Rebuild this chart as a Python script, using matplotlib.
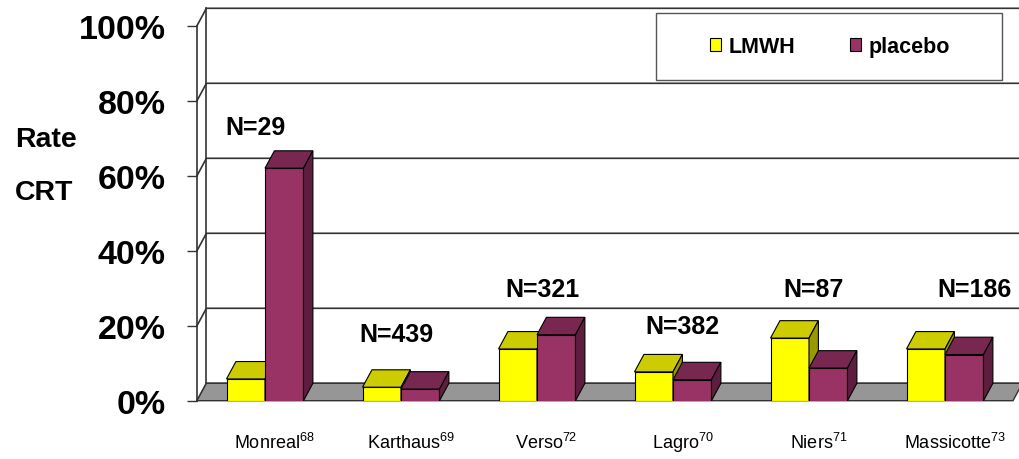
import numpy as np
import matplotlib.pyplot as plt
from matplotlib.patches import Polygon, Rectangle, Patch

plt.rcParams['font.family'] = ['Liberation Sans', 'DejaVu Sans']

# CRT rate per study (percent)
studies = ["Monreal", "Karthaus", "Verso", "Lagro", "Niers", "Massicotte"]
refs = ["68", "69", "72", "70", "71", "73"]
lmwh = [5.8, 3.6, 13.8, 7.7, 16.7, 13.8]
placebo = [62.0, 3.1, 17.6, 5.6, 8.7, 12.3]
n_patients = [29, 439, 321, 382, 87, 186]
yticks = [0, 20, 40, 60, 80, 100]

# where the N= labels sit (x in category units, y in percent)
n_label_x = [-0.07, 0.97, 2.04, 3.07, 4.03, 5.22]
n_label_y = [73, 17.8, 29.8, 20, 29.8, 29.8]

lmwh_cols = ("#FFFF00", "#CCCC00", "#999900")     # front, top, side
placebo_cols = ("#993366", "#772750", "#5E1E40")

fig = plt.figure(figsize=(10.19, 4.6), dpi=100)
ax = fig.add_axes([197 / 1019, 58.3 / 460, 816 / 1019, 375 / 460])
ax.set_xlim(-0.5, 5.5)
ax.set_ylim(0, 100)

# depth of the fake 3d effect, in data units
dx = 9.4 / 136
dy = 17.4 / 3.75
x0, x1 = ax.get_xlim()
grid_c = "#333333"

# back wall: gridlines, left side wall and wall edge
for v in yticks:
    ax.plot([x0, x0 + dx, x1 + dx], [v, v + dy, v + dy], color=grid_c, lw=1.2,
            clip_on=False, zorder=1)
ax.plot([x0 + dx, x0 + dx], [dy, 100 + dy], color=grid_c, lw=1.2, clip_on=False, zorder=1)

# floor
ax.add_patch(Polygon([(x0, 0), (x1, 0), (x1 + dx, dy), (x0 + dx, dy)], closed=True,
                     facecolor="#969696", edgecolor=grid_c, lw=1.0, clip_on=False, zorder=2))

w = 0.283
x = np.arange(len(studies))


def faces(left, h, cols, z):
    top = [(left, h), (left + w, h), (left + w + dx, h + dy), (left + dx, h + dy)]
    side = [(left + w, 0), (left + w, h), (left + w + dx, h + dy), (left + w + dx, dy)]
    ax.add_patch(Polygon(top, closed=True, facecolor=cols[1], edgecolor="black",
                         lw=0.8, clip_on=False, zorder=z))
    ax.add_patch(Polygon(side, closed=True, facecolor=cols[2], edgecolor="black",
                         lw=0.8, clip_on=False, zorder=z))


ax.bar(x - w, lmwh, width=w, align="edge", color=lmwh_cols[0], edgecolor="black",
       lw=0.8, zorder=3)
for xi, h in zip(x, lmwh):
    faces(xi - w, h, lmwh_cols, 3.1)
ax.bar(x, placebo, width=w, align="edge", color=placebo_cols[0], edgecolor="black",
       lw=0.8, zorder=4)
for xi, h in zip(x, placebo):
    faces(xi, h, placebo_cols, 4.1)

# sample size labels
for n, lx, ly in zip(n_patients, n_label_x, n_label_y):
    ax.text(lx, ly, f"N={n}", ha="center", va="center", fontsize=18,
            fontweight="bold", zorder=6)

# axes styling
for s in ["top", "right", "bottom"]:
    ax.spines[s].set_visible(False)
ax.spines["left"].set_color(grid_c)
ax.spines["left"].set_linewidth(1.2)
ax.set_yticks(yticks, [f"{v}%" for v in yticks])
ax.tick_params(axis="y", direction="out", length=7.5, width=1.0, color=grid_c,
               pad=15, labelsize=24.5)
for t in ax.get_yticklabels():
    t.set_fontweight("bold")

labels = [f"{s}$^{{\\mathdefault{{{r}}}}}$" for s, r in zip(studies, refs)]
ax.set_xticks(x + 0.07, labels)
ax.tick_params(axis="x", length=0, pad=34)
for t in ax.get_xticklabels():
    t.set_fontsize(13)
    t.set_verticalalignment("baseline")

fig.text(15 / 1019, 1 - 140 / 460, "Rate", ha="left", va="center", fontsize=20.5,
         fontweight="bold")
fig.text(15 / 1019, 1 - 193 / 460, "CRT", ha="left", va="center", fontsize=20.5,
         fontweight="bold")

# legend in its own box on the back wall
fig.add_artist(Rectangle((655.7 / 1019, 1 - 80.7 / 460), 346.6 / 1019, 66.7 / 460,
                         transform=fig.transFigure, facecolor="white",
                         edgecolor="#555555", lw=1.0, zorder=5))
handles = [Patch(facecolor=lmwh_cols[0], edgecolor="black", lw=0.8, label="LMWH"),
           Patch(facecolor=placebo_cols[0], edgecolor="black", lw=0.8, label="placebo")]
leg = fig.legend(handles=handles, loc="center", ncol=2,
                 bbox_to_anchor=(830 / 1019, 1 - 47.5 / 460), frameon=False,
                 prop={"size": 15.5, "weight": "bold"}, handlelength=0.55,
                 handleheight=0.55, handletextpad=0.35, columnspacing=2.5)
leg.set_zorder(6)

fig.savefig("out.png", dpi=100)
